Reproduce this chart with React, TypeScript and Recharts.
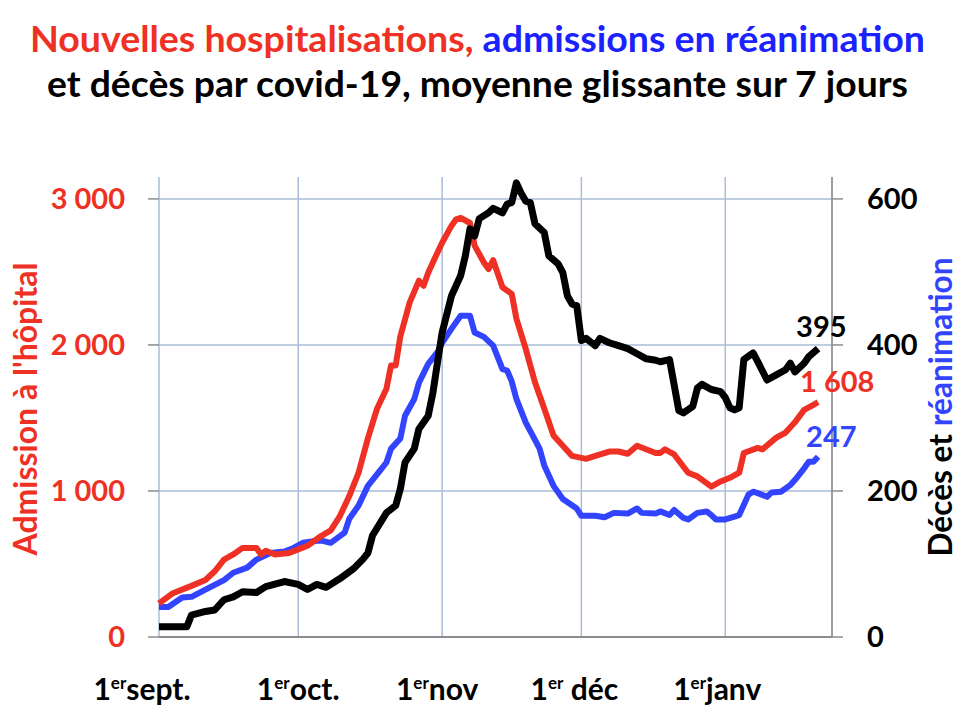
import React from 'react';
import { LineChart, Line, XAxis, YAxis, CartesianGrid } from 'recharts';

// Day index: 0 = 1er septembre, 30 = 1er oct, 61 = 1er nov, 91 = 1er déc, 122 = 1er janv
const hospDays = [0, 3, 7, 10, 12, 14, 16, 18, 21, 22, 23, 25, 28, 30, 32, 35, 37, 39, 41, 43, 45, 47, 49, 50, 51, 52, 54, 56, 57, 58, 59, 61, 63, 64, 65, 67, 68, 70, 71, 72, 74, 76, 77, 79, 81, 83, 85, 87, 89, 92, 94, 97, 99, 101, 103, 107, 108, 109, 111, 114, 116, 119, 121, 123, 125, 126, 129, 130, 133, 135, 137, 139, 141, 142];
const hospValues = [230, 300, 350, 390, 450, 530, 565, 610, 610, 565, 590, 565, 575, 600, 625, 693, 730, 830, 965, 1125, 1360, 1565, 1700, 1860, 1860, 2060, 2290, 2440, 2405, 2495, 2565, 2700, 2815, 2860, 2870, 2835, 2680, 2565, 2520, 2580, 2395, 2350, 2180, 1975, 1745, 1565, 1380, 1310, 1240, 1220, 1240, 1270, 1270, 1255, 1310, 1260, 1260, 1285, 1250, 1125, 1100, 1030, 1065, 1090, 1125, 1260, 1295, 1285, 1365, 1400, 1470, 1555, 1590, 1608];

const reaDays = [0, 2, 5, 7, 10, 14, 16, 19, 21, 24, 27, 29, 31, 33, 35, 37, 40, 41, 43, 45, 48, 49, 50, 52, 53, 55, 56, 58, 60, 61, 63, 65, 67, 68, 70, 72, 74, 75, 76, 77, 79, 82, 83, 85, 87, 90, 91, 94, 96, 98, 101, 103, 104, 107, 108, 110, 111, 113, 114, 116, 118, 119, 120, 122, 124, 125, 127, 128, 129, 131, 132, 134, 136, 137, 139, 140, 141, 142];
const reaValues = [41, 41, 54, 55, 65, 78, 88, 95, 106, 115, 117, 122, 129, 131, 132, 129, 143, 162, 180, 207, 231, 239, 258, 272, 303, 326, 348, 374, 390, 403, 422, 440, 440, 417, 411, 399, 367, 365, 350, 326, 294, 258, 235, 207, 189, 176, 166, 166, 164, 170, 169, 176, 170, 169, 172, 167, 174, 163, 161, 170, 172, 167, 161, 161, 165, 167, 195, 199, 197, 192, 198, 199, 208, 215, 231, 240, 240, 247];

const decesDays = [0, 3, 6, 7, 10, 12, 14, 16, 18, 21, 23, 27, 30, 32, 34, 36, 39, 42, 44, 45, 46, 49, 51, 52, 53, 55, 56, 58, 59, 60, 61, 63, 64, 65, 66, 67, 68, 69, 71, 72, 74, 75, 76, 77, 78, 79, 80, 81, 83, 84, 86, 87, 88, 89, 90, 91, 92, 94, 95, 97, 99, 101, 103, 105, 107, 108, 110, 112, 113, 115, 116, 117, 119, 121, 122, 123, 124, 125, 126, 128, 129, 131, 133, 135, 136, 137, 139, 140, 142];
const decesValues = [14, 14, 14, 30, 35, 37, 51, 55, 62, 61, 69, 76, 72, 65, 72, 68, 80, 94, 107, 115, 139, 170, 180, 203, 239, 258, 285, 303, 334, 376, 417, 467, 481, 495, 522, 559, 549, 573, 581, 587, 581, 593, 595, 622, 608, 597, 595, 566, 554, 522, 511, 499, 467, 456, 454, 406, 409, 399, 409, 403, 399, 395, 388, 381, 379, 377, 380, 310, 307, 316, 341, 346, 339, 336, 328, 314, 311, 314, 380, 389, 377, 352, 359, 366, 375, 363, 375, 384, 395];

const monthTicks = [0, 30, 61, 91, 122];
const monthLabels = ['sept.', 'oct.', 'nov', ' déc', 'janv'];
const leftTicks = [0, 1000, 2000, 3000];
const rightTicks = [0, 200, 400, 600];
const LEFT_MAX = 3150;
const RIGHT_MAX = 630;

const RED = '#ee3124';
const BLUE = '#3344ff';
const TITLE_BLUE = '#1a22ff';
const GRID = '#a9bcd9';
const AXIS = '#8c8c8c';
const FONT = 'Lato, "Open Sans", sans-serif';

const toSeries = (days: number[], values: number[]) => days.map((d, i) => ({ d, v: values[i] }));
const hospData = toSeries(hospDays, hospValues);
const reaData = toSeries(reaDays, reaValues);
const decesData = toSeries(decesDays, decesValues);

const fmt = (v: number) => {
  const s = String(Math.round(v));
  return s.replace(/\B(?=(\d{3})+(?!\d))/g, ' ');
};

const labelShift: Record<number, number> = { 0: -17, 30: 0, 61: -5, 91: -7, 122: -8 };

const XTick = (props: any) => {
  const { x, y, payload } = props;
  const idx = monthTicks.indexOf(payload.value);
  const rest = idx >= 0 ? monthLabels[idx] : '';
  const shift = labelShift[payload.value] ?? 0;
  return (
    <text x={x + shift} y={y + 63} textAnchor="middle" fontFamily={FONT} fontWeight={700} fontSize={30} fill="#000">
      <tspan>1</tspan>
      <tspan dy={-11} fontSize={17}>er</tspan>
      <tspan dy={11}>{rest}</tspan>
    </text>
  );
};

const makeEndLabel = (count: number, color: string, dx: number, dy: number) => (props: any) => {
  const { x, y, index, value } = props;
  if (index !== count - 1) return null;
  return (
    <text x={x + dx} y={y + dy} fontFamily={FONT} fontWeight={700} fontSize={29} fill={color}>
      {fmt(value)}
    </text>
  );
};

// Horizontal gridlines only at the non-zero major ticks
const horizontalGen = (props: any) => {
  const off = props && props.offset;
  if (!off || typeof off.top !== 'number' || typeof off.height !== 'number') return [];
  return leftTicks
    .filter((t) => t > 0)
    .map((t) => off.top + off.height * (1 - t / LEFT_MAX));
};

export default function App() {
  return (
    <div style={{ position: 'absolute', left: 0, top: 0, width: 960, height: 720, background: '#fff' }}>
      <LineChart
        width={960}
        height={720}
        margin={{ top: 177, right: 68, bottom: 43, left: 99 }}
      >
        <CartesianGrid
          stroke={GRID}
          strokeWidth={1.5}
          yAxisId="left"
          horizontalCoordinatesGenerator={horizontalGen}
        />
        <XAxis
          dataKey="d"
          type="number"
          domain={[0, 145]}
          ticks={monthTicks}
          allowDuplicatedCategory={false}
          height={40}
          axisLine={{ stroke: AXIS, strokeWidth: 2 }}
          tickLine={false}
          tickSize={0}
          tickMargin={0}
          tick={<XTick />}
          interval={0}
        />
        <YAxis
          yAxisId="left"
          orientation="left"
          width={60}
          domain={[0, LEFT_MAX]}
          ticks={leftTicks}
          interval={0}
          axisLine={false}
          tickLine={{ stroke: AXIS, strokeWidth: 1.5 }}
          tickSize={11}
          tickMargin={23}
          tickFormatter={fmt}
          tick={{ fill: RED, fontFamily: FONT, fontWeight: 700, fontSize: 29 }}
        />
        <YAxis
          yAxisId="right"
          orientation="right"
          width={60}
          domain={[0, RIGHT_MAX]}
          ticks={rightTicks}
          interval={0}
          axisLine={{ stroke: AXIS, strokeWidth: 1.5 }}
          tickLine={{ stroke: AXIS, strokeWidth: 1.5 }}
          tickSize={11}
          tickMargin={24}
          tick={{ fill: '#000', fontFamily: FONT, fontWeight: 700, fontSize: 29, textAnchor: 'start' }}
        />
        <Line
          data={reaData}
          yAxisId="right"
          dataKey="v"
          type="linear"
          stroke={BLUE}
          strokeWidth={6}
          dot={false}
          strokeLinejoin="round"
          isAnimationActive={false}
          label={makeEndLabel(reaData.length, BLUE, -12, -10)}
        />
        <Line
          data={hospData}
          yAxisId="left"
          dataKey="v"
          type="linear"
          stroke={RED}
          strokeWidth={6}
          dot={false}
          strokeLinejoin="round"
          isAnimationActive={false}
          label={makeEndLabel(hospData.length, RED, -18, -10)}
        />
        <Line
          data={decesData}
          yAxisId="right"
          dataKey="v"
          type="linear"
          stroke="#000"
          strokeWidth={7}
          dot={false}
          strokeLinejoin="round"
          isAnimationActive={false}
          label={makeEndLabel(decesData.length, '#000', -22, -12)}
        />
      </LineChart>
      <svg width={960} height={720} style={{ position: 'absolute', left: 0, top: 0, pointerEvents: 'none' }}>
        <text x={30} y={52} fontFamily={FONT} fontWeight={700} fontSize={37} textLength={895} lengthAdjust="spacingAndGlyphs">
          <tspan fill={RED}>Nouvelles hospitalisations, </tspan>
          <tspan fill={TITLE_BLUE}>admissions en réanimation</tspan>
        </text>
        <text x={47} y={97} fontFamily={FONT} fontWeight={700} fontSize={37} fill="#000" textLength={861} lengthAdjust="spacingAndGlyphs">
          et décès par covid-19, moyenne glissante sur 7 jours
        </text>
        <text
          transform="translate(37, 409) rotate(-90)"
          textAnchor="middle"
          fontFamily={FONT}
          fontWeight={700}
          fontSize={32}
          fill={RED}
          textLength={293}
          lengthAdjust="spacingAndGlyphs"
        >
          Admission à l'hôpital
        </text>
        <text
          transform="translate(952, 407) rotate(-90)"
          textAnchor="middle"
          fontFamily={FONT}
          fontWeight={700}
          fontSize={32}
          textLength={299}
          lengthAdjust="spacingAndGlyphs"
        >
          <tspan fill="#000">Décès et </tspan>
          <tspan fill={BLUE}>réanimation</tspan>
        </text>
      </svg>
    </div>
  );
}
